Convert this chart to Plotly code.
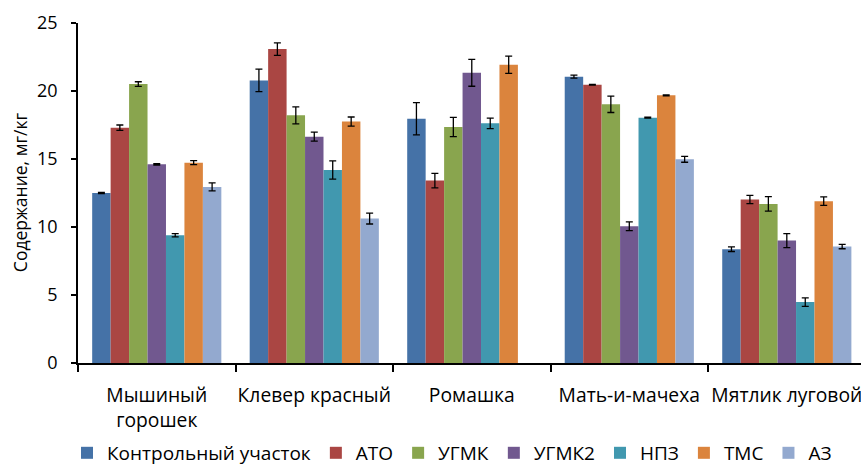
import plotly.graph_objects as go

categories = ["Мышиный<br>горошек", "Клевер красный", "Ромашка", "Мать-и-мачеха", "Мятлик луговой"]
series_names = ["Контрольный участок", "АТО", "УГМК", "УГМК2", "НПЗ", "ТМС", "АЗ"]
colors = ["#4572A7", "#AA4643", "#89A54E", "#71588F", "#4198AF", "#DB843D", "#93A9CF"]

control = [12.50, 20.78, 17.96, 21.05, 8.37]
ato = [17.30, 23.08, 13.41, 20.46, 12.02]
ugmk = [20.51, 18.21, 17.35, 19.02, 11.70]
ugmk2 = [14.61, 16.64, 21.34, 10.06, 9.00]
npz = [9.40, 14.19, 17.62, 18.04, 4.48]
tms = [14.73, 17.75, 21.93, 19.68, 11.90]
az = [12.95, 10.62, None, 14.98, 8.56]

control_err = [0.05, 0.83, 1.19, 0.11, 0.17]
ato_err = [0.20, 0.46, 0.54, 0.03, 0.30]
ugmk_err = [0.17, 0.62, 0.71, 0.60, 0.53]
ugmk2_err = [0.05, 0.33, 0.99, 0.32, 0.51]
npz_err = [0.12, 0.67, 0.38, 0.03, 0.31]
tms_err = [0.15, 0.34, 0.64, 0.03, 0.31]
az_err = [0.29, 0.40, None, 0.22, 0.16]

values = [control, ato, ugmk, ugmk2, npz, tms, az]
errors = [control_err, ato_err, ugmk_err, ugmk2_err, npz_err, tms_err, az_err]

FONT = "Open Sans"

fig = go.Figure()
for name, vals, errs, col in zip(series_names, values, errors, colors):
    fig.add_trace(go.Bar(
        name=name, x=categories, y=vals,
        marker=dict(color=col, line=dict(width=0)),
        error_y=dict(type="data", array=[e if e is not None else 0 for e in errs],
                     color="black", thickness=1.3, width=3.5),
    ))

fig.update_layout(
    width=861, height=466,
    barmode="group", bargap=0.18, bargroupgap=0,
    plot_bgcolor="white", paper_bgcolor="white",
    margin=dict(l=78, r=0, t=23, b=103, autoexpand=False),
    font=dict(family=FONT, size=19, color="black"),
    showlegend=True,
    legend=dict(orientation="h", yref="container", y=0.028, yanchor="middle",
                xref="container", x=0.525, xanchor="center",
                font=dict(family=FONT, size=19), itemwidth=30,
                traceorder="normal"),
    xaxis=dict(type="category", range=[-0.5, 4.471], showline=True, linecolor="black",
               linewidth=1.5, ticks="outside", tickson="boundaries", ticklen=7,
               tickcolor="black", tickwidth=1.5, showgrid=False, automargin=False,
               tickangle=0,
               tickfont=dict(family=FONT, size=19.3), ticklabelstandoff=14),
    yaxis=dict(range=[0, 25], dtick=5, showline=True, linecolor="black", linewidth=1.5,
               ticks="outside", ticklen=5, tickcolor="black", tickwidth=1.5,
               showgrid=False, zeroline=False, automargin=False,
               tickfont=dict(family=FONT, size=18), ticklabelstandoff=10),
    annotations=[dict(text="Содержание, мг/кг", textangle=-90, xref="paper", yref="paper",
                      x=-0.0741, y=0.5025, xanchor="center", yanchor="middle",
                      showarrow=False, font=dict(family=FONT, size=17.5))],
)

fig.write_html("out.html", config={"displayModeBar": False},
               post_script="document.body.style.margin='0';document.body.style.overflow='hidden';")
